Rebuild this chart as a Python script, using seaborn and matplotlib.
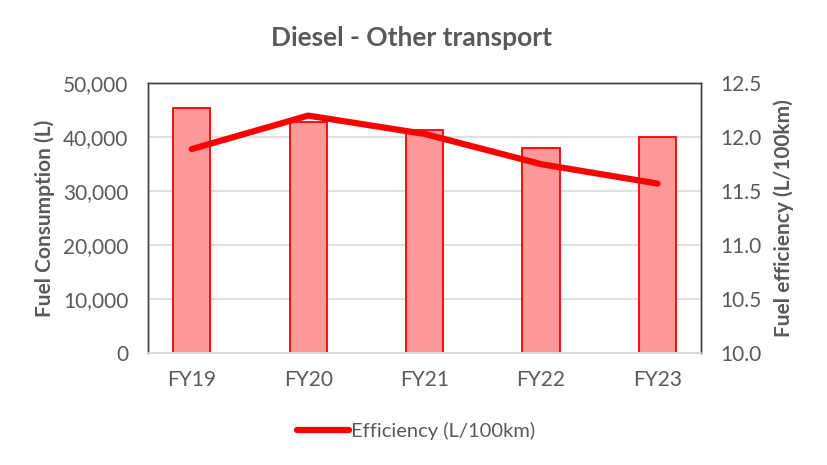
import matplotlib.pyplot as plt
import matplotlib.ticker as mticker
from matplotlib.lines import Line2D
import pandas as pd
import seaborn as sns

years = ["FY19", "FY20", "FY21", "FY22", "FY23"]
consumption = [45400, 42800, 41300, 38000, 40000]
efficiency = [11.89, 12.20, 12.03, 11.75, 11.57]

sns.set_theme(style="white")
plt.rcParams["font.family"] = ["Lato", "DejaVu Sans"]
GREY = "#595959"

df = pd.DataFrame({"year": years, "consumption": consumption, "efficiency": efficiency})

fig = plt.figure(figsize=(8.27, 4.65), dpi=100)
ax = fig.add_axes([0.179, 0.241, 0.669, 0.580])

sns.barplot(data=df, x="year", y="consumption", ax=ax, width=0.32,
            color="#ff9999", edgecolor="#ff0000", linewidth=1.3, saturation=1, zorder=2)
ax.set_ylim(0, 50000)
ax.set_yticks(range(0, 50001, 10000))
ax.yaxis.set_major_formatter(mticker.FuncFormatter(lambda v, p: f"{int(v):,}"))
ax.grid(axis="y", color="#d9d9d9", linewidth=1.2, zorder=0)
ax.set_axisbelow(True)
ax.set_xlabel("")
ax.set_ylabel("Fuel Consumption (L)", fontsize=15, fontweight="bold", color=GREY, labelpad=6)
ax.tick_params(axis="y", colors=GREY, labelsize=15, length=0, pad=14)
ax.tick_params(axis="x", colors=GREY, labelsize=15, length=0, pad=12)

ax2 = ax.twinx()
sns.lineplot(data=df, x="year", y="efficiency", ax=ax2, color="#ff0000",
             linewidth=4.5, sort=False, solid_capstyle="round")
ax2.set_ylim(10.0, 12.5)
ax2.set_yticks([10.0, 10.5, 11.0, 11.5, 12.0, 12.5])
ax2.yaxis.set_major_formatter(mticker.FormatStrFormatter("%.1f"))
ax2.set_ylabel("Fuel efficiency (L/100km)", fontsize=15, fontweight="bold", color=GREY, labelpad=8)
ax2.tick_params(axis="y", colors=GREY, labelsize=15, length=0, pad=14)
ax2.set_xlabel("")

for a in (ax, ax2):
    for side in ("left", "right", "top"):
        a.spines[side].set_color("#404040")
        a.spines[side].set_linewidth(1.0)
    a.spines["bottom"].set_color("#d9d9d9")
    a.spines["bottom"].set_linewidth(1.2)

fig.suptitle("Diesel - Other transport", x=0.498, y=0.945, fontsize=19,
             fontweight="bold", color=GREY)

handle = Line2D([0], [0], color="#ff0000", linewidth=4.5, solid_capstyle="round")
fig.legend([handle], ["Efficiency (L/100km)"], loc="center", bbox_to_anchor=(0.503, 0.073),
           frameon=False, fontsize=14.5, labelcolor=GREY, handlelength=2.6, handletextpad=0.1)

fig.savefig("out.png", dpi=100)
